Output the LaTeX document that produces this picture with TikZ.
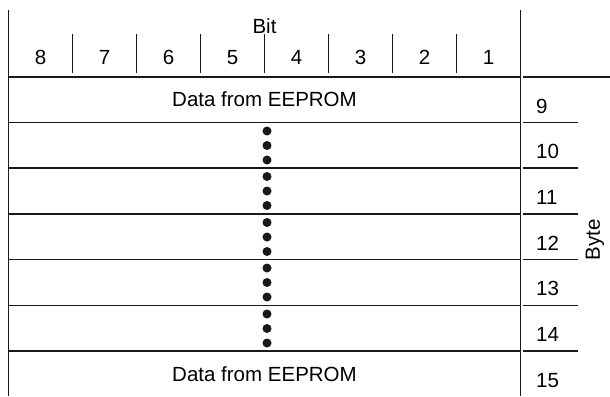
\documentclass[tikz,border=0pt]{standalone}
\usepackage{fontspec}
\setmainfont{Liberation Sans}
\usetikzlibrary{positioning}

\begin{document}
\begin{tikzpicture}[
  x=1pt,y=-1pt,
  lbl/.style={font=\fontsize{20.5}{24}\selectfont,inner sep=0pt},
  rule/.style={line width=1.8pt,color=black!90},
  bulletdot/.style={circle,fill=black!90,inner sep=0pt,minimum size=9pt},
]
  \useasboundingbox (0,0) rectangle (610,396);

  % frame
  \draw[rule] (8.5,10) -- (8.5,396);
  \draw[rule] (520.5,10) -- (520.5,396);

  % bit header
  \node[lbl] (bit) at (264.5,26) {Bit};
  \foreach \x in {72.5,136.5,200.5,264.5,328.5,392.5,456.5}
    \draw[rule] (\x,34) -- (\x,73);
  \foreach \b [count=\i] in {8,7,6,5,4,3,2,1}
    \node[lbl] (b\b) at ({64*\i-23.5},57.5) {\b};

  % rows
  \foreach \y in {77,122.5,168,214,259.5,305.5,351}
    \draw[rule] (8.5,\y) -- (520.5,\y);
  \node[lbl] (first) at (264.5,99.5) {Data from EEPROM};
  \node[lbl] (last)  at (264.5,374)  {Data from EEPROM};
  \foreach \y in {122.5,168,214,259.5,305.5}
    \foreach \d in {8.5,23,37.5}
      \node[bulletdot] at (267,\y+\d) {};

  % byte column
  \draw[rule] (522.5,77) -- (610,77);
  \foreach \y in {122.5,168,214,259.5,305.5,351}
    \draw[rule] (522.5,\y) -- (578,\y);
  \foreach \n/\y in {9/77,10/122.5,11/168,12/214,13/259.5,14/305.5,15/351}
    \node[lbl,anchor=base west] (r\n) at (536,\y+36) {\n};
  \node[lbl,rotate=90] (byte) at (595,240) {Byte};
\end{tikzpicture}
\end{document}
